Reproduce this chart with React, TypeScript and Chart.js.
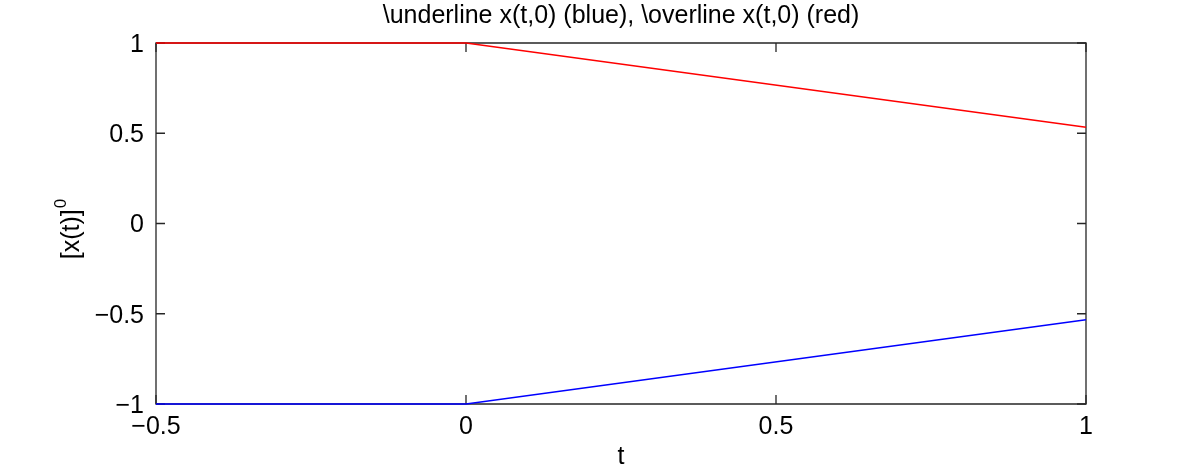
import React, { useEffect, useRef } from "react";
import { Chart, registerables } from "chart.js";

Chart.register(...registerables);

const tValues = [-0.5, 0, 1];
const lowerValues = [-1, -1, -0.533];
const upperValues = [1, 1, 0.533];
const xTickValues = [-0.5, 0, 0.5, 1];
const yTickValues = [-1, -0.5, 0, 0.5, 1];
const titleText = "\\underline x(t,0) (blue), \\overline x(t,0) (red)";
const xLabel = "t";
const yLabelMain = "[x(t)]";
const yLabelSup = "0";

const FONT = "'Liberation Sans', Arial, Helvetica, sans-serif";
const AXIS_COLOR = "#262626";

const fmt = (v: number) => {
  const s = String(Math.abs(v));
  return v < 0 ? "\u2212" + s : s;
};

const boxPlugin = {
  id: "matlabBox",
  beforeDatasetsDraw(chart: any) {
    const { ctx, chartArea } = chart;
    const { left, right, top, bottom } = chartArea;
    const xs = chart.scales.x;
    const ys = chart.scales.y;
    const tl = 9;
    ctx.save();
    ctx.strokeStyle = AXIS_COLOR;
    ctx.lineWidth = 1.3;
    ctx.beginPath();
    ctx.rect(left, top, right - left, bottom - top);
    ctx.stroke();
    ctx.beginPath();
    xs.ticks.forEach((t: any) => {
      const px = xs.getPixelForValue(t.value);
      ctx.moveTo(px, bottom);
      ctx.lineTo(px, bottom - tl);
      ctx.moveTo(px, top);
      ctx.lineTo(px, top + tl);
    });
    ys.ticks.forEach((t: any) => {
      const py = ys.getPixelForValue(t.value);
      ctx.moveTo(left, py);
      ctx.lineTo(left + tl, py);
      ctx.moveTo(right, py);
      ctx.lineTo(right - tl, py);
    });
    ctx.stroke();
    ctx.restore();
  },
  afterDraw(chart: any) {
    const { ctx, chartArea } = chart;
    ctx.save();
    ctx.fillStyle = "#000";
    // x label
    ctx.font = `25px ${FONT}`;
    ctx.textAlign = "center";
    ctx.textBaseline = "middle";
    ctx.fillText(xLabel, (chartArea.left + chartArea.right) / 2, 457);
    // y label rotated with superscript
    const cx = 72;
    const cy = 229;
    ctx.translate(cx, cy);
    ctx.rotate(-Math.PI / 2);
    ctx.font = `25px ${FONT}`;
    const mainW = ctx.measureText(yLabelMain).width;
    ctx.font = `17px ${FONT}`;
    const supW = ctx.measureText(yLabelSup).width;
    const total = mainW + supW + 1;
    ctx.textAlign = "left";
    ctx.textBaseline = "middle";
    ctx.font = `25px ${FONT}`;
    ctx.fillText(yLabelMain, -total / 2, 0);
    ctx.font = `17px ${FONT}`;
    ctx.fillText(yLabelSup, -total / 2 + mainW + 1, -11);
    ctx.restore();
  },
};

export default function App() {
  const ref = useRef<HTMLCanvasElement>(null);
  useEffect(() => {
    document.body.style.margin = "0";
    const chart = new Chart(ref.current as HTMLCanvasElement, {
      type: "line",
      data: {
        datasets: [
          {
            label: "lower",
            data: tValues.map((t, i) => ({ x: t, y: lowerValues[i] })),
            borderColor: "#0000ff",
            borderWidth: 1.5,
            pointRadius: 0,
            clip: 5,
          },
          {
            label: "upper",
            data: tValues.map((t, i) => ({ x: t, y: upperValues[i] })),
            borderColor: "#ff0000",
            borderWidth: 1.5,
            pointRadius: 0,
            clip: 5,
          },
        ],
      },
      plugins: [boxPlugin],
      options: {
        animation: false,
        responsive: false,
        layout: { padding: { left: 0, right: 114, top: 0, bottom: 0 } },
        plugins: {
          legend: { display: false },
          tooltip: { enabled: false },
          title: {
            display: true,
            text: titleText,
            fullSize: false,
            color: "#000",
            font: { family: FONT, size: 25, weight: "normal", lineHeight: 1.2 },
            padding: { top: 1, bottom: 12 },
          },
        },
        scales: {
          x: {
            type: "linear",
            min: -0.5,
            max: 1,
            afterBuildTicks: (s: any) => {
              s.ticks = xTickValues.map((v) => ({ value: v }));
            },
            afterFit: (s: any) => {
              s.height = 67;
            },
            grid: { display: false, drawTicks: false },
            border: { display: false },
            ticks: {
              color: "#000",
              font: { family: FONT, size: 25 },
              padding: 8,
              maxRotation: 0,
              autoSkip: false,
              callback: (v: any) => fmt(Number(v)),
            },
          },
          y: {
            type: "linear",
            min: -1,
            max: 1,
            afterBuildTicks: (s: any) => {
              s.ticks = yTickValues.map((v) => ({ value: v }));
            },
            afterFit: (s: any) => {
              s.width = 156;
            },
            grid: { display: false, drawTicks: false },
            border: { display: false },
            ticks: {
              color: "#000",
              font: { family: FONT, size: 25 },
              padding: 12,
              labelOffset: 2,
              autoSkip: false,
              callback: (v: any) => fmt(Number(v)),
            },
          },
        },
      },
    } as any);
    return () => chart.destroy();
  }, []);
  return (
    <div style={{ width: 1200, height: 471, background: "#fff" }}>
      <canvas ref={ref} width={1200} height={471} style={{ display: "block" }} />
    </div>
  );
}
